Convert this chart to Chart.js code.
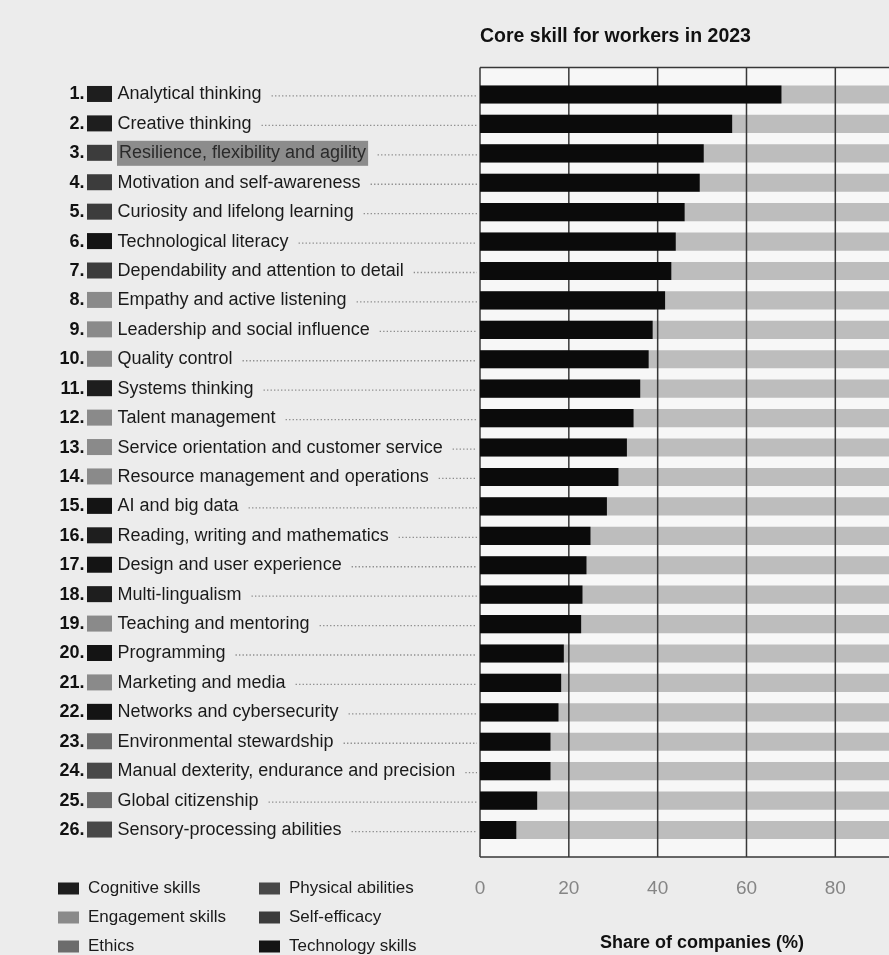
<!DOCTYPE html>
<html>
<head>
<meta charset="utf-8">
<title>Core skill for workers in 2023</title>
<script src="https://cdn.jsdelivr.net/npm/chart.js@4.4.1/dist/chart.umd.min.js"></script>
<style>
    html, body { margin: 0; padding: 0; background: #ececec; overflow: hidden; }
    #wrap { position: absolute; left: 0; top: 0; width: 960px; height: 955px; }
</style>
</head>
<body>
<div id="wrap"><canvas id="graficoSkills"></canvas></div>
<script>
const skills = [
    'Analytical thinking', 'Creative thinking', 'Resilience, flexibility and agility',
    'Motivation and self-awareness', 'Curiosity and lifelong learning', 'Technological literacy',
    'Dependability and attention to detail', 'Empathy and active listening',
    'Leadership and social influence', 'Quality control', 'Systems thinking', 'Talent management',
    'Service orientation and customer service', 'Resource management and operations',
    'AI and big data', 'Reading, writing and mathematics', 'Design and user experience',
    'Multi-lingualism', 'Teaching and mentoring', 'Programming', 'Marketing and media',
    'Networks and cybersecurity', 'Environmental stewardship',
    'Manual dexterity, endurance and precision', 'Global citizenship', 'Sensory-processing abilities'
];
const shares = [67.8, 56.7, 50.3, 49.4, 46.0, 44.0, 43.0, 41.6, 38.8, 37.9, 36.0, 34.5, 33.0,
    31.1, 28.5, 24.8, 23.9, 23.0, 22.7, 18.8, 18.2, 17.6, 15.8, 15.8, 12.8, 8.1];
const skillGroups = [0, 0, 4, 4, 4, 5, 4, 1, 1, 1, 0, 1, 1, 1, 5, 0, 5, 0, 1, 5, 1, 5, 2, 3, 2, 3];
const groupNames = ['Cognitive skills', 'Engagement skills', 'Ethics',
    'Physical abilities', 'Self-efficacy', 'Technology skills'];
const groupColors = ['#1e1e1e', '#8a8a8a', '#6c6c6c', '#484848', '#3c3c3c', '#141414'];
const xTicks = [0, 20, 40, 60, 80, 100];
const fullShare = 100;
const highlightRow = 2;

const fontFamily = '"Liberation Sans", Arial, Helvetica, sans-serif';
const gridColor = '#383838';

// fondo claro del área de trazado
const plotBackground = {
    id: 'plotBackground',
    beforeDraw(chart) {
        const { ctx, chartArea: a } = chart;
        ctx.save();
        ctx.fillStyle = '#f7f7f7';
        ctx.fillRect(a.left, a.top, a.right - a.left, a.bottom - a.top);
        ctx.restore();
    }
};

// rejilla sobre las barras grises pero debajo de las negras
const gridOverGrey = {
    id: 'gridOverGrey',
    afterDatasetDraw(chart, args) {
        if (args.index !== 1) return;
        const { ctx, chartArea: a, scales: { x } } = chart;
        ctx.save();
        ctx.strokeStyle = gridColor;
        ctx.lineWidth = 1.5;
        ctx.beginPath();
        x.ticks.forEach(t => {
            const px = x.getPixelForValue(t.value);
            ctx.moveTo(px, a.top);
            ctx.lineTo(px, a.bottom);
        });
        ctx.moveTo(a.left, a.top);
        ctx.lineTo(a.right, a.top);
        ctx.moveTo(a.left, a.bottom);
        ctx.lineTo(a.right, a.bottom);
        ctx.stroke();
        ctx.restore();
    }
};

// etiquetas de la izquierda (número, cuadro de grupo, texto, puntos) y leyenda
const skillLabels = {
    id: 'skillLabels',
    afterDraw(chart) {
        const { ctx, chartArea: a, scales: { y } } = chart;
        ctx.save();
        ctx.textBaseline = 'middle';
        skills.forEach((name, i) => {
            const py = y.getPixelForValue(i);
            ctx.font = 'bold 18px ' + fontFamily;
            ctx.textAlign = 'right';
            ctx.fillStyle = '#111';
            ctx.fillText((i + 1) + '.', 84.5, py);

            ctx.fillStyle = groupColors[skillGroups[i]];
            ctx.fillRect(87, py - 8.5, 25, 16);

            ctx.font = '18px ' + fontFamily;
            ctx.textAlign = 'left';
            const w = ctx.measureText(name).width;
            if (i === highlightRow) {
                ctx.fillStyle = '#8c8c8c';
                ctx.fillRect(117, py - 12.5, w + 4, 25);
                ctx.fillStyle = '#2a2a2a';
                ctx.fillText(name, 119, py);
            } else {
                ctx.fillStyle = '#1a1a1a';
                ctx.fillText(name, 117.5, py);
            }

            const startX = 117.5 + w + (i === highlightRow ? 13 : 10);
            ctx.strokeStyle = '#8a8a8a';
            ctx.lineWidth = 1.3;
            ctx.setLineDash([1.3, 2.2]);
            ctx.beginPath();
            ctx.moveTo(startX, py + 1.5);
            ctx.lineTo(a.left - 3, py + 1.5);
            ctx.stroke();
            ctx.setLineDash([]);
        });

        ctx.font = '17px ' + fontFamily;
        ctx.textAlign = 'left';
        groupNames.forEach((g, k) => {
            const col = Math.floor(k / 3);
            const row = k % 3;
            const lx = col === 0 ? 58 : 259;
            const ly = 888.5 + row * 29;
            ctx.fillStyle = groupColors[k];
            ctx.fillRect(lx, ly - 6, 21, 12);
            ctx.fillStyle = '#1a1a1a';
            ctx.fillText(g, lx + 30, ly);
        });
        ctx.restore();
    }
};

document.addEventListener('DOMContentLoaded', function() {
    const ctx = document.getElementById('graficoSkills');

    new Chart(ctx.getContext('2d'), {
        type: 'bar',
        data: {
            datasets: [{
                label: 'Share of companies (%)',
                data: shares.map((v, i) => ({ x: v, y: i })),
                backgroundColor: '#0b0b0b',
                barThickness: 17.5,
                grouped: false,
                order: 0
            }, {
                label: 'Total',
                data: skills.map((_, i) => ({ x: fullShare, y: i })),
                backgroundColor: '#bdbdbd',
                barThickness: 17.5,
                grouped: false,
                order: 1
            }]
        },
        options: {
            indexAxis: 'y',
            responsive: true,
            maintainAspectRatio: false,
            animation: false,
            layout: {
                padding: { left: 480, right: 35.5, top: 0, bottom: 0 }
            },
            scales: {
                x: {
                    min: xTicks[0],
                    max: xTicks[xTicks.length - 1],
                    afterBuildTicks: axis => { axis.ticks = xTicks.map(v => ({ value: v })); },
                    grid: { display: false, drawTicks: false },
                    border: { display: false },
                    ticks: {
                        padding: 20,
                        color: '#858585',
                        font: { family: fontFamily, size: 19 }
                    },
                    title: {
                        display: true,
                        text: 'Share of companies (%)',
                        color: '#111',
                        font: { family: fontFamily, size: 18, weight: 'bold' },
                        padding: { top: 12.5, bottom: 1 }
                    }
                },
                y: {
                    type: 'linear',
                    reverse: true,
                    offset: false,
                    min: -0.92,
                    max: 25.92,
                    display: false
                }
            },
            plugins: {
                legend: { display: false },
                tooltip: { enabled: false },
                title: {
                    display: true,
                    text: 'Core skill for workers in 2023',
                    align: 'start',
                    color: '#111',
                    font: { family: fontFamily, size: 19.5, weight: 'bold' },
                    padding: { top: 24.5, bottom: 19.5 }
                }
            }
        },
        plugins: [plotBackground, gridOverGrey, skillLabels]
    });
});
</script>
</body>
</html>
